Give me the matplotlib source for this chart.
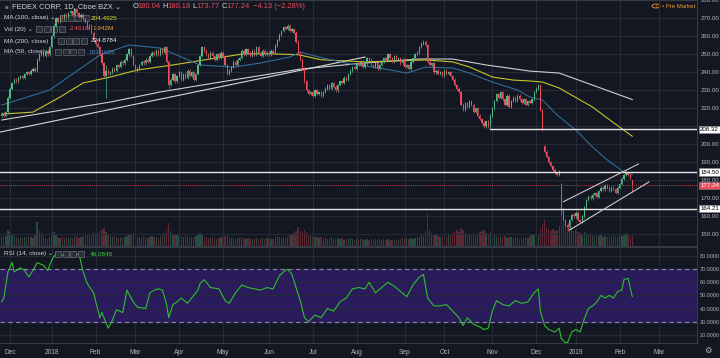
import numpy as np
import matplotlib.pyplot as plt
from matplotlib.patches import Rectangle, Circle

plt.rcParams['font.family'] = ['Liberation Sans', 'DejaVu Sans']

# daily bars, bar index 0 = 1 Dec 2017
first_bar = -4
closes = [
    217, 216, 218, 226, 231, 234, 236, 235, 237, 238,
    237, 239, 240, 239, 241, 242, 241, 247, 250, 251,
    249, 252, 250, 254, 260, 266, 270, 268, 271, 270,
    272, 271, 273, 274, 272, 275, 273, 271, 272, 270,
    268, 265, 266, 262, 258, 256, 254, 250, 245, 238,
    241, 239, 240, 242, 241, 244, 243, 246, 245, 247,
    250, 253, 249, 244, 241, 242, 244, 246, 245, 247,
    246, 249, 251, 250, 252, 250, 253, 251, 254, 246,
    233, 236, 239, 235, 238, 240, 236, 239, 237, 241,
    238, 240, 236, 239, 244, 249, 254, 252, 250, 248,
    251, 249, 247, 250, 248, 251, 249, 244, 239, 241,
    243, 246, 244, 247, 248, 252, 250, 253, 251, 249,
    252, 250, 254, 251, 249, 252, 250, 251, 250, 252,
    251, 255, 258, 261, 263, 265, 264, 266, 263, 264,
    262, 257, 251, 247, 242, 235, 230, 228, 229, 227,
    230, 228, 229, 227, 229, 231, 233, 231, 234, 232,
    230, 233, 235, 234, 237, 236, 239, 241, 243, 242,
    245, 244, 246, 243, 245, 248, 247, 244, 243, 245,
    242, 244, 246, 248, 247, 250, 248, 246, 249, 247,
    248, 245, 247, 243, 244, 242, 246, 248, 250, 251,
    254, 256, 257, 255, 246, 244, 245, 240, 241, 239,
    240, 238, 241, 239, 240, 238, 236, 233, 231, 229,
    222, 219, 223, 221, 224, 222, 218, 220, 216, 214,
    212, 210, 213, 210, 216, 220, 224, 228, 226, 229,
    225, 222, 227, 221, 224, 226, 224, 227, 225, 223,
    225, 222, 224, 223, 225, 229, 231, 233, 219, 208,
    196, 193, 190, 188, 186, 184, 183, 185, 164, 158,
    155, 154, 158, 161, 160, 162, 158, 157, 160, 165,
    169, 171, 170, 172, 173, 171, 174, 176, 175, 177,
    176, 174, 176, 175, 173, 176, 178, 181, 183, 184.5,
    183, 181.37, 177.24,
]
# opens / extremes that differ from the plain candle
gap_opens = {256: 199.0, 264: 178.0, 298: 180.04}
long_wicks = {46: (244, 226), 76: (247, 230), 264: (178.6, 160.5),
              267: (156.5, 151.8), 298: (180.18, 173.77)}

volume = [
    2.1, 1.8, 2.0, 3.2, 2.9, 2.4, 2.0, 1.9, 1.7, 1.8,
    1.6, 1.9, 1.7, 2.0, 1.8, 1.6, 2.2, 4.8, 3.1, 2.4,
    2.0, 1.7, 1.5, 1.9, 2.6, 2.8, 2.2, 1.9, 1.7, 1.8,
    1.6, 1.8, 1.7, 1.9, 1.6, 2.0, 1.8, 1.7, 1.9, 2.1,
    2.3, 2.2, 2.0, 2.5, 2.8, 2.4, 2.6, 3.0, 3.3, 3.6,
    2.8, 2.3, 2.1, 1.9, 2.0, 1.8, 1.7, 1.9, 1.6, 1.8,
    2.0, 2.2, 2.4, 2.6, 2.1, 1.9, 1.8, 1.7, 2.0, 1.8,
    1.7, 1.9, 2.0, 1.8, 1.9, 1.7, 2.1, 2.3, 2.6, 3.4,
    4.6, 3.0, 2.4, 2.2, 2.5, 2.1, 2.0, 1.9, 2.2, 1.8,
    1.9, 1.7, 1.8, 2.0, 2.3, 2.6, 2.2, 1.9, 1.8, 1.7,
    1.6, 1.8, 1.7, 1.5, 1.6, 1.8, 1.7, 2.0, 2.2, 1.9,
    1.7, 1.6, 1.5, 1.7, 1.6, 1.8, 1.7, 1.5, 1.6, 1.4,
    1.5, 1.6, 1.7, 1.5, 1.4, 1.6, 1.5, 1.7, 1.6, 1.5,
    1.4, 1.8, 2.0, 1.9, 1.7, 1.8, 1.6, 1.9, 2.2, 2.4,
    2.6, 3.1, 3.8, 3.0, 2.8, 3.3, 2.9, 2.4, 2.1, 2.0,
    1.8, 1.9, 1.7, 1.8, 1.6, 1.7, 1.5, 1.6, 1.8, 1.5,
    1.4, 1.6, 1.5, 1.7, 1.3, 1.5, 1.4, 1.6, 1.5, 1.3,
    1.4, 1.2, 1.5, 1.4, 1.3, 1.5, 1.2, 1.4, 1.3, 1.5,
    1.3, 1.4, 1.2, 1.5, 1.3, 1.4, 1.2, 1.3, 1.5, 1.2,
    1.3, 1.4, 1.6, 1.5, 1.7, 1.4, 1.6, 1.5, 1.7, 1.8,
    1.9, 2.2, 2.0, 3.1, 6.8, 3.4, 2.6, 2.4, 2.2, 2.0,
    1.9, 2.1, 2.0, 1.8, 2.3, 2.1, 2.6, 2.9, 3.2, 2.8,
    3.6, 3.3, 2.6, 2.4, 2.2, 2.0, 2.4, 2.1, 2.5, 2.8,
    3.0, 3.2, 2.7, 2.5, 2.9, 2.4, 2.2, 2.0, 1.9, 2.1,
    1.8, 2.0, 1.7, 1.9, 1.8, 1.6, 1.8, 1.7, 1.5, 1.9,
    1.6, 1.8, 1.7, 2.0, 2.2, 2.4, 2.6, 2.5, 3.6, 4.4,
    5.2, 3.8, 3.4, 3.1, 3.5, 3.0, 3.3, 4.1, 7.4, 5.3,
    4.6, 4.2, 3.6, 3.8, 3.0, 3.2, 2.8, 2.6, 2.4, 2.9,
    2.6, 2.4, 2.2, 2.5, 2.1, 2.3, 2.0, 2.2, 1.9, 2.1,
    1.8, 2.0, 1.9, 2.2, 2.0, 1.8, 2.3, 2.1, 2.4, 2.6,
    2.2, 2.0, 2.46,
]

# moving averages (bar index, value)
ma50_x = [-4, 19, 43, 57, 72, 91, 107, 120, 134, 139, 148, 163, 177, 190, 199,
          212, 220, 231, 243, 249, 255, 262, 271, 279, 286, 294, 298]
ma50_y = [221.8, 230.2, 249.6, 255.2, 253.5, 244.1, 242.9, 245.2, 248.5, 251.3,
          248.5, 244.6, 242.4, 239.6, 242.9, 242.4, 239.6, 234.6, 230.2, 226.3,
          224.6, 216.3, 207.9, 198.5, 191.3, 184.6, 183.2]
ma100_x = [-4, 11, 24, 35, 48, 61, 78, 93, 112, 125, 138, 149, 170, 199, 212,
           220, 231, 241, 249, 255, 263, 279, 286, 298]
ma100_y = [216.8, 217.9, 226.3, 234.1, 237.4, 241.3, 244.1, 246.9, 250.3, 250.3,
           249.8, 247.0, 245.8, 246.9, 245.8, 243.0, 237.4, 235.7, 235.2, 234.6,
           231.3, 220.7, 214.6, 204.49]
ma200_x = [-4, 48, 72, 98, 139, 170, 196, 212, 228, 249, 263, 279, 298]
ma200_y = [213.5, 223.5, 229.1, 234.1, 241.8, 245.2, 247.4, 247.4, 244.1, 240.7,
           239.6, 232.9, 224.88]

rsi_x = [-4, -3, -1, 1, 2, 5, 7, 9, 11, 13, 16, 18, 20, 22, 24, 27, 30, 33, 35, 37,
         40, 43, 44, 47, 49, 51, 54, 56, 59, 61, 65, 67, 69, 71, 73, 75, 76, 78, 80,
         82, 85, 87, 90, 91, 93, 96, 100, 103, 105, 108, 111, 114, 117, 120, 123,
         126, 129, 131, 133, 135, 137, 139, 141, 143, 146, 149, 152, 155, 158, 161,
         164, 167, 170, 172, 175, 178, 181, 184, 187, 190, 193, 196, 198, 200, 203,
         206, 209, 212, 215, 217, 219, 222, 225, 227, 229, 231, 233, 236, 239, 242,
         245, 248, 251, 253, 254, 256, 258, 261, 263, 264, 266, 267, 269, 271, 273,
         275, 277, 279, 281, 283, 285, 287, 289, 291, 293, 294, 296, 297, 298]
rsi_y = [45, 48, 68, 75, 68, 71, 69, 64, 69, 75, 73, 69, 77, 82, 80, 82, 79, 82, 68,
         59, 52, 33, 37, 25, 31, 39, 37, 54, 45, 41, 40, 52, 54, 55, 54, 43, 33, 43,
         45, 48, 44, 48, 54, 59, 62, 56, 55, 46, 44, 52, 58, 56, 55, 54, 56, 55, 65,
         68, 70, 66, 56, 46, 33, 30, 35, 33, 40, 38, 45, 48, 55, 56, 55, 60, 52, 56,
         60, 57, 53, 49, 58, 64, 66, 48, 42, 42, 43, 38, 33, 27, 33, 28, 26, 24, 25,
         38, 46, 43, 42, 46, 44, 45, 52, 55, 38, 27, 24, 22, 25, 17, 14, 14, 22, 24,
         22, 32, 40, 42, 45, 50, 48, 50, 48, 53, 54, 62, 63, 56, 49.0845]

month_pos = [0, 20, 41, 60, 81, 102, 124, 145, 166, 189, 208, 231, 252, 271, 292, 311]
month_lbl = ['Dec', '2018', 'Feb', 'Mar', 'Apr', 'May', 'Jun', 'Jul', 'Aug', 'Sep',
             'Oct', 'Nov', 'Dec', '2019', 'Feb', 'Mar']

trend_x = [-4.8, 170]
trend_y = [206.8, 248.5]
chan_up_x = [265, 301]
chan_up_y = [168.1, 189.1]
chan_lo_x = [268, 306]
chan_lo_y = [152.4, 179.1]
levels_full = [184.50, 164.21]
level_nov = 208.32
level_nov_start = 230
last_price = 177.24

bg = '#131722'
grid = '#262a36'
txt = '#b2b5be'
up_c = '#53b987'
dn_c = '#eb4d5c'

W, H = 720, 358


def px(x, y):
    return x / W, 1 - y / H


fig = plt.figure(figsize=(7.2, 3.58), dpi=100, facecolor=bg)
ax = fig.add_axes([0, 1 - 246 / H, 697 / W, 246 / H])
ax2 = fig.add_axes([0, 1 - 343 / H, 697 / W, 96 / H], sharex=ax)

idx = np.arange(first_bar, first_bar + len(closes))
c = np.array(closes, dtype=float)
o = np.array([gap_opens.get(i, closes[k - 1] if k > 0 else closes[0] - 1)
              for k, i in enumerate(idx)], dtype=float)
hi = np.maximum(o, c) + 0.7
lo = np.minimum(o, c) - 0.7
for i, (h, l) in long_wicks.items():
    hi[i - first_bar] = h
    lo[i - first_bar] = l
cols = np.where(c >= o, up_c, dn_c)

# volume underlay
axv = ax.twinx()
axv.set_zorder(0)
ax.set_zorder(1)
ax.patch.set_visible(False)
axv.patch.set_facecolor(bg)
axv.bar(idx, volume, width=0.65, color=cols, alpha=0.33, lw=0)
axv.set_ylim(0, 50)
axv.yaxis.set_visible(False)
for s in axv.spines.values():
    s.set_visible(False)

for a in (ax, ax2):
    a.set_facecolor(bg)
    for x in month_pos:
        a.axvline(x, color=grid, lw=0.8, zorder=0)
    for s in a.spines.values():
        s.set_color('#363a45')
        s.set_linewidth(0.8)
    a.spines['left'].set_visible(False)
    a.yaxis.tick_right()
    a.tick_params(axis='y', colors=txt, length=0, pad=2.5)

# price pane
ax.set_xlim(-4.8, 329)
ax.set_ylim(143.5, 280.2)
pticks = np.arange(150, 281, 10)
ax.set_yticks(pticks)
ax.set_yticklabels(['' if t == 210 else '%.2f' % t for t in pticks])
ax.tick_params(axis='y', labelsize=4.4)
for t in pticks:
    ax.axhline(t, color=grid, lw=0.8, zorder=0)
ax.tick_params(axis='x', labelbottom=False, length=0)

ax.plot(ma200_x, ma200_y, color='#cfcfcf', lw=0.8, zorder=3)
ax.plot(trend_x, trend_y, color='#d8d8d8', lw=0.8, zorder=3)
ax.plot(ma100_x, ma100_y, color='#c4c42c', lw=0.8, zorder=3)
ax.plot(ma50_x, ma50_y, color='#336b97', lw=0.8, zorder=3)

ax.vlines(idx, lo, hi, colors=cols, lw=0.5, zorder=4)
ax.bar(idx, np.maximum(np.abs(c - o), 0.3), bottom=np.minimum(o, c), width=0.6,
       color=cols, lw=0, zorder=5)

for lv in levels_full:
    ax.axhline(lv, color='#e6e6e6', lw=1.0, zorder=6)
ax.plot([level_nov_start, 329], [level_nov, level_nov], color='#e6e6e6', lw=1.0, zorder=6)
ax.axhline(last_price, color=dn_c, lw=0.6, ls=(0, (1, 1.5)), zorder=6)
ax.plot(chan_up_x, chan_up_y, color='#c8c8c8', lw=0.8, zorder=6)
ax.plot(chan_lo_x, chan_lo_y, color='#c8c8c8', lw=0.8, zorder=6)

ytr = ax.get_yaxis_transform()
for lv, fc, tc in [(level_nov, 'white', 'black'), (184.50, 'white', 'black'),
                   (last_price, dn_c, 'white'), (164.21, 'white', 'black')]:
    ax.text(1.0045, lv, '%.2f' % lv, transform=ytr, fontsize=4.4, color=tc,
            va='center', ha='left', clip_on=False, zorder=10,
            bbox=dict(boxstyle='square,pad=0.2', fc=fc, ec='#888888', lw=0.4))

# rsi pane
ax2.set_ylim(13.7, 86.9)
ax2.axhspan(30, 70, color='#2a1b5c', zorder=0)
rticks = np.arange(20, 81, 10)
ax2.set_yticks(rticks)
ax2.set_yticklabels(['%.4f' % t for t in rticks])
ax2.tick_params(axis='y', labelsize=3.9, pad=2)
for t in rticks:
    if t not in (30, 70):
        ax2.axhline(t, color=grid, lw=0.8, zorder=0)
for t in (30, 70):
    ax2.axhline(t, color='#8a8d96', lw=0.8, ls=(0, (4, 3)), zorder=1)
ax2.plot(rsi_x, rsi_y, color='#2fbf2f', lw=0.8, zorder=3)
ax2.set_xticks(month_pos)
ax2.set_xticklabels(month_lbl)
ax2.tick_params(axis='x', labelsize=4.8, colors=txt, length=0, pad=4)

# legends
lc = '#d1d4dc'
fs = 4.6


def icons(x0, y):
    for k in range(4):
        fig.add_artist(Rectangle(px(x0 + k * 7.5, y + 3), 6 / W, 6 / H,
                                 transform=fig.transFigure, fc='#2a2e39',
                                 ec='#6a6d78', lw=0.5))


fig.text(*px(5, 7), '\u25a0', fontsize=4.5, color='#6a6d78', va='center')
fig.text(*px(12, 7), 'FEDEX CORP, 1D, Cboe BZX \u2304', fontsize=5.4, color=lc,
         va='center')
x = 133
for lab, val in [('O', '180.04'), ('H', '180.18'), ('L', '173.77'), ('C', '177.24')]:
    fig.text(*px(x, 7), lab, fontsize=5.4, color=lc, va='center')
    fig.text(*px(x + 4.5, 7), val, fontsize=5.4, color=dn_c, va='center')
    x += 29.5
fig.text(*px(253, 7), '\u22124.13 (\u22122.28%)', fontsize=5.4, color=dn_c, va='center')

rows = [(18, 'MA (100, close) \u2304', 60, [('204.4925', '#e0e030', 91)]),
        (29, 'Vol (20) \u2304', 36, [('2.461M', dn_c, 70), ('1.942M', '#f0a040', 92)]),
        (41, 'MA (200, close)', 58, [('224.8784', '#e8e8e8', 91)]),
        (52, 'MA (50, close) \u2304', 55, [('183.1626', '#4a86b8', 88)])]
for y, name, ix, vals in rows:
    fig.text(*px(4, y), name, fontsize=fs, color=lc, va='center')
    icons(ix, y)
    for v, col, vx in vals:
        fig.text(*px(vx, y), v, fontsize=fs, color=col, va='center')

fig.text(*px(4, 254), 'RSI (14, close) \u2304', fontsize=fs, color=lc, va='center')
icons(55, 254)
fig.text(*px(90, 254), '49.0845', fontsize=fs, color='#3cd23c', va='center')

fig.add_artist(Circle(px(656, 6), 4 / W, transform=fig.transFigure, fc='none',
                      ec='#f0962d', lw=0.6))
fig.text(*px(656, 6), '!', fontsize=4, color='#f0962d', va='center', ha='center')
fig.text(*px(662, 6), '\u2022 Pre Market', fontsize=4.3, color='#f0962d', va='center')
fig.text(*px(708, 351), '\u2699', fontsize=6, color=txt, va='center', ha='center')

fig.savefig('out.png', dpi=100, facecolor=bg)
